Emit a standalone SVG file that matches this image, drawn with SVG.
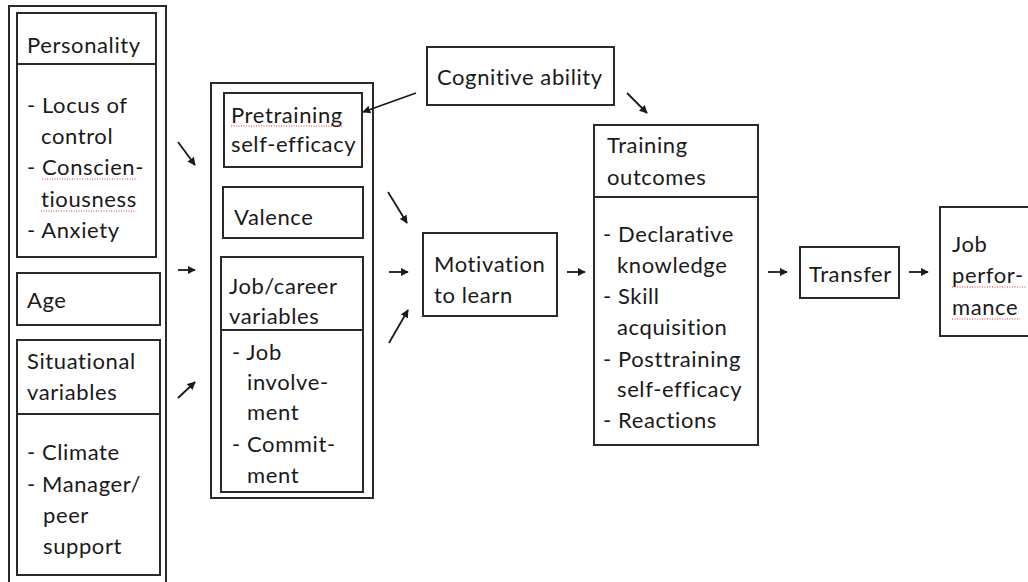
<svg xmlns="http://www.w3.org/2000/svg" width="1028" height="582" viewBox="0 0 1028 582">
<defs>
<style>
.b{fill:#fff;stroke:#2a2a2a;stroke-width:2}
.l{fill:none;stroke:#2a2a2a;stroke-width:2}
.t{font-family:Lato,"Open Sans",sans-serif;font-size:22px;letter-spacing:0.6px;fill:#1a1a1a}
.c{stroke:#1a1a1a;stroke-width:1.8;fill:none;marker-end:url(#ah)}
.sp{stroke:#e03030;stroke-width:1;stroke-dasharray:1 1.5;fill:none}
</style>
<marker id="ah" viewBox="0 0 10 10" refX="9" refY="5" markerWidth="4.5" markerHeight="4.5" orient="auto" markerUnits="strokeWidth">
<path d="M0,0 L10,5 L0,10 z" fill="#1a1a1a"/>
</marker>
</defs>
<rect width="1028" height="582" fill="#fff"/>

<g id="left-group">
<rect class="b" x="9" y="6" width="157" height="590"/>
</g>
<g id="personality">
<rect class="b" x="17" y="13" width="139" height="244"/>
<line class="l" x1="17" y1="64" x2="156" y2="64"/>
<text class="t" x="27" y="53">Personality</text>
<text class="t" x="27" y="113">- Locus of</text>
<text class="t" x="41" y="144">control</text>
<text class="t" x="27" y="175">- Conscien-</text>
<text class="t" x="41" y="207">tiousness</text>
<text class="t" x="27" y="238">- Anxiety</text>
<path class="sp" d="M42,179 H137 M41,211 H136"/>
</g>
<g id="age">
<rect class="b" x="17" y="273" width="143" height="52"/>
<text class="t" x="27" y="308">Age</text>
</g>
<g id="situational">
<rect class="b" x="17" y="340" width="143" height="235"/>
<line class="l" x1="17" y1="414" x2="160" y2="414"/>
<text class="t" x="27" y="369">Situational</text>
<text class="t" x="27" y="400">variables</text>
<text class="t" x="27" y="460">- Climate</text>
<text class="t" x="27" y="492">- Manager/</text>
<text class="t" x="43" y="523">peer</text>
<text class="t" x="43" y="554">support</text>
</g>

<g id="middle-group">
<rect class="b" x="211" y="83" width="162" height="415"/>
</g>
<g id="pretraining">
<rect class="b" x="224" y="93" width="138" height="74"/>
<text class="t" x="231" y="123">Pretraining</text>
<text class="t" x="231" y="152">self-efficacy</text>
<path class="sp" d="M231,126 H343"/>
</g>
<g id="valence">
<rect class="b" x="223" y="187" width="140" height="51"/>
<text class="t" x="234" y="225">Valence</text>
</g>
<g id="jobcareer">
<rect class="b" x="221" y="257" width="142" height="235"/>
<line class="l" x1="221" y1="330" x2="363" y2="330"/>
<text class="t" x="229" y="294">Job/career</text>
<text class="t" x="229" y="324">variables</text>
<text class="t" x="232" y="360">- Job</text>
<text class="t" x="247" y="390">involve-</text>
<text class="t" x="247" y="420">ment</text>
<text class="t" x="232" y="452">- Commit-</text>
<text class="t" x="247" y="483">ment</text>
</g>

<g id="cognitive">
<rect class="b" x="427" y="47" width="187" height="58"/>
<text class="t" x="437" y="85">Cognitive ability</text>
</g>
<g id="motivation">
<rect class="b" x="423" y="233" width="134" height="83"/>
<text class="t" x="434" y="272">Motivation</text>
<text class="t" x="434" y="303">to learn</text>
</g>
<g id="training">
<rect class="b" x="594" y="125" width="164" height="320"/>
<line class="l" x1="594" y1="197" x2="758" y2="197"/>
<text class="t" x="607" y="153">Training</text>
<text class="t" x="607" y="185">outcomes</text>
<text class="t" x="603" y="242">- Declarative</text>
<text class="t" x="617" y="273">knowledge</text>
<text class="t" x="603" y="304">- Skill</text>
<text class="t" x="617" y="335">acquisition</text>
<text class="t" x="603" y="367">- Posttraining</text>
<text class="t" x="617" y="397">self-efficacy</text>
<text class="t" x="603" y="428">- Reactions</text>
</g>
<g id="transfer">
<rect class="b" x="800" y="247" width="99" height="51"/>
<text class="t" x="809" y="282">Transfer</text>
</g>
<g id="jobperformance">
<rect class="b" x="940" y="207" width="100" height="129"/>
<text class="t" x="952" y="252">Job</text>
<text class="t" x="952" y="283">perfor-</text>
<text class="t" x="952" y="315">mance</text>
<path class="sp" d="M952,287 H1027 M952,319 H1020"/>
</g>

<g id="connectors">
<line class="c" x1="178" y1="142" x2="195" y2="165"/>
<line class="c" x1="178" y1="270" x2="195" y2="270"/>
<line class="c" x1="178" y1="398" x2="195" y2="382"/>
<line class="c" x1="416" y1="93" x2="363" y2="112"/>
<line class="c" x1="627" y1="93" x2="647" y2="113"/>
<line class="c" x1="388" y1="192" x2="407" y2="223"/>
<line class="c" x1="389" y1="272" x2="408" y2="272"/>
<line class="c" x1="389" y1="343" x2="408" y2="310"/>
<line class="c" x1="567" y1="272" x2="585" y2="272"/>
<line class="c" x1="768" y1="272" x2="787" y2="272"/>
<line class="c" x1="909" y1="272" x2="928" y2="272"/>
</g>
</svg>
